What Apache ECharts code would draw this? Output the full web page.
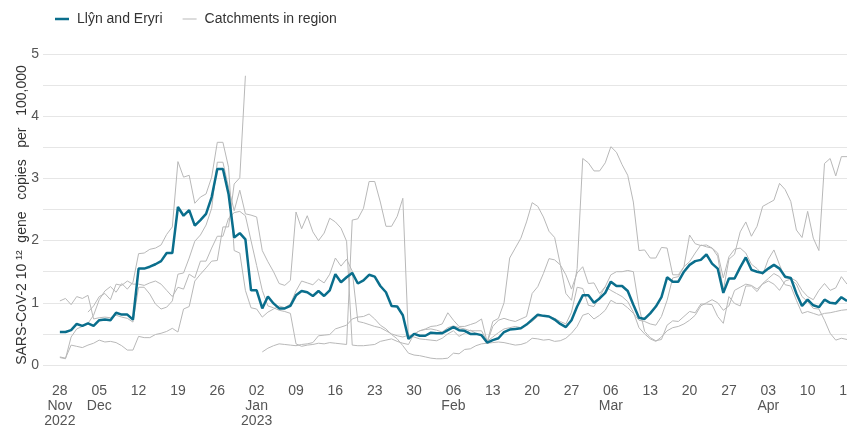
<!DOCTYPE html>
<html>
<head>
<meta charset="utf-8">
<script src="https://cdn.jsdelivr.net/npm/echarts@6/dist/echarts.min.js"></script>
<style>
    html, body { margin: 0; padding: 0; background: #fff; }
    #chart { width: 847px; height: 428px; }
</style>
</head>
<body>
<div id="chart"></div>
<script>
    // daily samples, 28 Nov 2022 .. 17 Apr 2023 (141 days)
    const firstDay = Date.UTC(2022, 10, 25); // axis starts 3 days before the first sample
    const padDays = 3;
    const dayCount = 144;

    const tickLabels = ['28\nNov\n2022', '05\nDec', '12', '19', '26', '02\nJan\n2023', '09', '16', '23', '30',
        '06\nFeb', '13', '20', '27', '06\nMar', '13', '20', '27', '03\nApr', '10', '17'];

    const llynEryri = [
        0.53, 0.53, 0.56, 0.66, 0.63, 0.67, 0.63, 0.72, 0.73, 0.72,
        0.84, 0.81, 0.81, 0.73, 1.55, 1.55, 1.58, 1.62, 1.67, 1.80,
        1.80, 2.54, 2.40, 2.49, 2.24, 2.33, 2.43, 2.70, 3.15, 3.15,
        2.75, 2.05, 2.12, 2.02, 1.20, 1.20, 0.91, 1.10, 0.99, 0.91,
        0.91, 0.95, 1.12, 1.19, 1.17, 1.11, 1.19, 1.11, 1.20, 1.46,
        1.33, 1.41, 1.48, 1.31, 1.36, 1.45, 1.42, 1.27, 1.17, 0.95,
        0.94, 0.80, 0.42, 0.50, 0.47, 0.47, 0.52, 0.51, 0.51, 0.56,
        0.61, 0.56, 0.55, 0.50, 0.50, 0.48, 0.36, 0.40, 0.43, 0.53,
        0.57, 0.58, 0.59, 0.65, 0.73, 0.81, 0.79, 0.78, 0.73, 0.66,
        0.61, 0.72, 0.94, 1.12, 1.12, 1.00, 1.07, 1.16, 1.34, 1.27,
        1.27, 1.19, 0.97, 0.76, 0.74, 0.83, 0.94, 1.09, 1.41, 1.34,
        1.34, 1.50, 1.61, 1.67, 1.69, 1.78, 1.63, 1.55, 1.16, 1.39,
        1.39, 1.57, 1.73, 1.53, 1.50, 1.48, 1.55, 1.61, 1.55, 1.42,
        1.40, 1.15, 0.95, 1.05, 0.96, 0.93, 1.05, 1.00, 0.99, 1.09,
        1.03
    ];

    const catchmentA = [
        1.03, 1.07, 0.97, 1.10, 1.07, 1.12, 0.74, 0.76, 0.77, 0.76,
        0.80, 0.77, 0.75, 0.69, 1.25, 1.25, 1.14, 0.98, 0.90, 0.93,
        1.03, 1.46, 1.48, 1.72, 1.99, 2.09, 2.25, 2.52, 3.26, 3.26,
        2.86, 2.48, 2.81, 2.43, 2.41, 2.38, 1.84, 1.66, 1.50, 1.31,
        1.28, 1.36, 2.46, 2.19, 2.40, 2.14, 2.00, 2.12, 2.36, 2.30,
        2.20, 1.99, 0.32, 0.31, 0.31, 0.32, 0.33, 0.38, 0.40, 0.42,
        0.38, 0.35, 0.33, 0.50, 0.55, 0.57, 0.58, 0.56, 0.53, 0.60,
        0.63, 0.60, 0.58, 0.55, 0.55, 0.55, 0.38, 0.45, 0.52, 0.58,
        0.60, 0.62, 0.60, 0.65, 0.70, 0.78, 0.79, 0.78, 0.75, 0.70,
        0.66, 0.85, 1.25, 1.23, 0.96, 0.94, 1.10, 1.26, 1.20, 1.15,
        1.10, 1.02, 0.85, 0.60, 0.50, 0.42, 0.38, 0.45, 0.55, 0.60,
        0.62, 0.66, 0.72, 0.80, 0.95, 1.00, 1.05, 1.00, 0.88, 0.95,
        1.20, 1.25, 1.30, 1.28, 1.22, 1.30, 1.35, 1.30, 1.20, 1.35,
        1.38, 1.30, 1.10, 1.02, 0.91, 0.90, 0.72, 0.51, 0.40, 0.43,
        0.41
    ];

    const catchmentB = [
        0.12, 0.10, 0.45, 0.58, 0.62, 0.67, 0.80, 1.05, 1.19, 1.26,
        1.17, 1.31, 1.22, 1.33, 1.79, 1.80, 1.86, 1.88, 1.93, 2.10,
        2.22, 3.27, 3.02, 3.05, 2.60, 2.70, 2.75, 3.02, 3.58, 3.58,
        3.18, 1.84, 1.80, 1.20, 0.92, 0.90, 0.77, 0.85, 0.90, 0.95,
        0.92, 0.98, 1.19, 1.35, 1.32, 1.29, 1.38, 1.32, 1.46, 1.72,
        1.59, 1.70, 1.51, 0.70, 0.68, 0.65, 0.62, 0.60, 0.55, 0.50,
        0.47, 0.45, 0.48, 0.45, 0.42, 0.41, 0.40, 0.39, 0.43, 0.50,
        0.55, 0.46, 0.51, 0.56, 0.51, 0.46, 0.36, 0.62, 0.72, 0.75,
        0.72, 0.70, 0.74, 0.78, 1.15, 1.26, 1.47, 1.71, 1.69, 1.61,
        1.45, 1.22, 1.48, 1.58, 1.31, 1.32, 1.15, 1.26, 1.45, 1.50,
        1.50, 1.52, 1.50, 0.94, 0.54, 0.44, 0.39, 0.41, 0.64, 0.71,
        0.70, 0.78, 0.86, 0.84, 0.98, 0.98, 0.97, 0.78, 0.67, 1.10,
        0.99, 0.95, 1.27, 1.27, 1.18, 1.31, 1.39, 1.47, 1.42, 1.29,
        1.27, 1.04, 0.83, 0.86, 0.83, 0.80, 0.83, 0.84, 0.86, 0.88,
        0.89
    ];

    const catchmentC = [
        null, null, null, null, null, 0.85, 0.95, 1.10, 1.15, 1.05,
        1.30, 1.28, 1.35, 1.30, 1.30, 1.28, 1.32, 1.35, 1.30, 1.20,
        1.10, 1.25, 1.22, 1.46, 1.40, 1.67, 1.67, 1.88, 2.07, 2.07,
        2.36, 2.45, 2.47, 2.40, 2.00, 1.60, 1.20, 0.95, 0.92, 0.88,
        0.86, 0.83, 0.34, 0.30, 0.32, 0.33, 0.35, 0.34, 0.36, 0.35,
        0.34, 0.33, 2.33, 2.35, 2.52, 2.95, 2.95, 2.62, 2.23, 2.23,
        2.39, 2.68, 0.42, 0.50, 0.55, 0.58, 0.62, 0.63, 0.66, 0.84,
        0.72, 0.62, 0.62, 0.65, 0.68, 0.74, 0.37, 0.70, 0.75, 1.00,
        1.72, 1.88, 2.04, 2.30, 2.61, 2.55, 2.38, 2.15, 2.05, 1.62,
        1.15, 1.04, 1.55, 3.32, 3.25, 3.12, 3.12, 3.25, 3.51, 3.42,
        3.22, 3.05, 2.62, 1.84, 1.85, 1.72, 1.72, 1.89, 1.88, 1.45,
        1.45, 1.58, 2.09, 1.95, 1.92, 1.93, 1.88, 1.75, 1.20, 1.70,
        1.78, 2.14, 2.30, 2.07, 2.23, 2.55, 2.60, 2.65, 2.92, 2.82,
        2.63, 2.17, 2.05, 2.47, 2.04, 1.84, 3.24, 3.32, 3.04, 3.35,
        3.35
    ];

    const catchmentD = [
        0.13, 0.11, 0.32, 0.30, 0.28, 0.32, 0.35, 0.40, 0.37, 0.38,
        0.36, 0.31, 0.24, 0.24, 0.46, 0.44, 0.44, 0.49, 0.51, 0.54,
        0.59, 0.53, 0.90, 0.94, 1.35, 1.46, 1.56, 1.67, 1.68, 2.22,
        2.22, 2.91, 3.01, 4.65, null, null, 0.21, 0.27, 0.31, 0.34,
        0.33, 0.32, 0.31, 0.33, 0.34, 0.36, 0.47, 0.48, 0.49, 0.58,
        0.61, 0.64, 0.74, 0.77, 0.78, 0.82, 0.74, 0.64, 0.58, 0.49,
        0.42, 0.31, 0.19, 0.16, 0.15, 0.13, 0.11, 0.10, 0.10, 0.11,
        0.19, 0.18, 0.25, 0.26, 0.31, 0.34, 0.35, 0.36, 0.37, 0.36,
        0.34, 0.32, 0.33, 0.36, 0.43, 0.42, 0.40, 0.41, 0.38, 0.39,
        0.43, 0.51, 0.62, 0.80, 0.83, 0.74, 0.80, 0.88, 1.04, 0.99,
        0.99, 0.92, 0.83, 0.72, 0.70, 0.66, 0.64, 0.78, 1.04, 1.40,
        1.42, 1.58, 1.66, 1.80, 1.93, 1.90, 1.88, 1.80, 1.40, 1.74,
        1.86, 1.88, 1.80, 1.62, 1.55, 1.45, 1.70, 1.85, 1.61, 1.40,
        1.40, 1.35, 1.20, 1.10, 1.05, 1.20, 1.31, 1.20, 1.24, 1.42,
        1.30
    ];

    const catchments = [catchmentA, catchmentB, catchmentC, catchmentD];

    // category per day
    let days = []
    for (let i = 0; i < dayCount; i++) {
        days.push(new Date(firstDay + i * 86400000).toISOString().slice(0, 10))
    }
    const pad = arr => new Array(padDays).fill(null).concat(arr)

    const fontFamily = '"Liberation Sans", Arial, sans-serif'
    const teal = '#0a6e8c'
    const grey = '#b8b8b8'
    const localName = 'Llŷn and Eryri'
    const regionName = 'Catchments in region'

    let series = catchments.map(c => ({
        name: regionName,
        type: 'line',
        data: pad(c),
        symbol: 'none',
        connectNulls: false,
        lineStyle: { color: grey, width: 1 },
        itemStyle: { color: grey },
        z: 2
    }))
    series.push({
        name: localName,
        type: 'line',
        data: pad(llynEryri),
        symbol: 'none',
        lineStyle: { color: teal, width: 2.5 },
        itemStyle: { color: teal },
        z: 3
    })

    let chart = echarts.init(document.getElementById('chart'));
    chart.setOption({
        animation: false,
        textStyle: { fontFamily: fontFamily },
        legend: {
            data: [
                { name: localName, icon: 'path://M0 0H14V2.5H0Z' },
                { name: regionName, icon: 'path://M0 0H14V1H0Z' }
            ],
            left: 50,
            top: 7,
            itemWidth: 14,
            itemHeight: 10,
            itemGap: 20,
            symbolKeepAspect: true,
            itemStyle: { borderWidth: 0 },
            textStyle: { fontSize: 14, color: '#333', fontFamily: fontFamily, padding: [0, 0, 0, 3] }
        },
        grid: {
            left: 43,
            right: 0,
            top: 54,
            bottom: 63,
            outerBoundsMode: 'none'
        },
        graphic: [{
            type: 'text',
            x: 22,
            y: 215,
            rotation: Math.PI / 2,
            style: {
                text: 'SARS-CoV-2 10 ¹²  gene   copies   per   100,000',
                fontSize: 14,
                fontFamily: fontFamily,
                fill: '#333',
                align: 'center',
                verticalAlign: 'middle',
                textAlign: 'center',
                textVerticalAlign: 'middle'
            }
        }],
        xAxis: {
            type: 'category',
            boundaryGap: false,
            data: days,
            axisLine: { show: false },
            axisTick: { show: false },
            splitLine: { show: false },
            axisLabel: {
                interval: idx => idx >= padDays && (idx - padDays) % 7 === 0,
                formatter: (val, idx) => tickLabels[(idx - padDays) / 7] || '',
                fontSize: 14,
                lineHeight: 15,
                color: '#555',
                margin: 19,
                fontFamily: fontFamily
            }
        },
        yAxis: {
            type: 'value',
            min: 0,
            max: 5,
            interval: 0.5,
            axisLine: { show: false },
            axisTick: { show: false },
            axisLabel: {
                formatter: v => (v % 1 === 0 ? String(v) : ''),
                fontSize: 14,
                color: '#555',
                margin: 4,
                fontFamily: fontFamily
            },
            splitLine: { lineStyle: { color: '#e6e6e6', width: 1 } }
        },
        series: series
    })
</script>
</body>
</html>
